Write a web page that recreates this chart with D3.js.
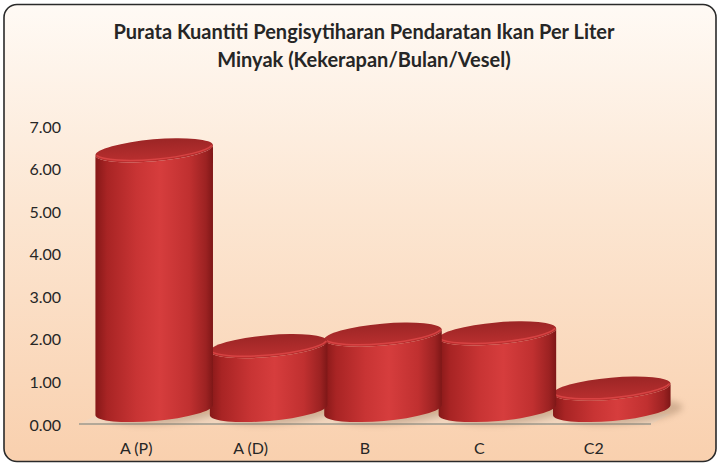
<!DOCTYPE html>
<html>
<head>
<meta charset="utf-8">
<script src="https://cdn.jsdelivr.net/npm/d3@7/dist/d3.min.js"></script>
<style>
  html, body { margin: 0; padding: 0; background: #ffffff; }
  svg { display: block; }
</style>
</head>
<body>
<script>
// ---- data ----
const categories = ["A (P)", "A (D)", "B", "C", "C2"];
const values = [6.1, 1.5, 1.77, 1.8, 0.5];
const yTicks = [0, 1, 2, 3, 4, 5, 6, 7];
const titleLines = ["Purata Kuantiti Pengisytiharan Pendaratan Ikan Per Liter", "Minyak (Kekerapan/Bulan/Vesel)"];

const W = 721, H = 468;
const svg = d3.select("body").append("svg").attr("width", W).attr("height", H);
const defs = svg.append("defs");

// background gradient
const bg = defs.append("linearGradient").attr("id", "bg").attr("x1", 0).attr("y1", 0).attr("x2", 0).attr("y2", 1);
bg.append("stop").attr("offset", "0%").attr("stop-color", "#fffaf5");
bg.append("stop").attr("offset", "45%").attr("stop-color", "#fce6d2");
bg.append("stop").attr("offset", "100%").attr("stop-color", "#f9d0ae");

// body gradient
const bodyG = defs.append("linearGradient").attr("id", "bodyG").attr("x1", 0).attr("y1", 0).attr("x2", 1).attr("y2", 0);
[["0%", "#861818"], ["10%", "#a82424"], ["35%", "#c83434"], ["55%", "#d63d3d"], ["80%", "#c03030"], ["94%", "#9c2222"], ["100%", "#7e1717"]]
  .forEach(([o, c]) => bodyG.append("stop").attr("offset", o).attr("stop-color", c));

// top gradient
const topG = defs.append("linearGradient").attr("id", "topG").attr("x1", 0).attr("y1", 1).attr("x2", 0.3).attr("y2", 0);
topG.append("stop").attr("offset", "0%").attr("stop-color", "#bf3131");
topG.append("stop").attr("offset", "100%").attr("stop-color", "#9e2626");

const blur = defs.append("filter").attr("id", "blur").attr("x", "-30%").attr("y", "-80%").attr("width", "160%").attr("height", "260%");
blur.append("feGaussianBlur").attr("stdDeviation", 3);

// frame
svg.append("rect").attr("x", 4).attr("y", 4.5).attr("width", 712).attr("height", 457)
  .attr("rx", 13).attr("ry", 13)
  .attr("fill", "url(#bg)").attr("stroke", "#2a2a2a").attr("stroke-width", 1.6);

// title
svg.append("g").selectAll("text").data(titleLines).join("text")
  .attr("x", 364).attr("y", (d, i) => 39 + i * 28)
  .attr("text-anchor", "middle")
  .attr("font-family", "Lato, 'Open Sans', sans-serif")
  .attr("font-weight", "bold").attr("font-size", 20)
  .attr("fill", "#262626")
  .text(d => d);

// scales
const y = d3.scaleLinear().domain([0, 7]).range([425, 127]);
const x = d3.scaleBand().domain(categories).range([79, 651]).paddingInner(0).paddingOuter(0);

// y axis labels
const yAxis = d3.axisLeft(y).tickValues(yTicks).tickFormat(d3.format(".2f")).tickSize(0).tickPadding(0);
const ya = svg.append("g").attr("transform", "translate(61,0)").call(yAxis);
ya.select(".domain").remove();
ya.selectAll("text").attr("font-family", "Lato, sans-serif").attr("font-size", 16).attr("fill", "#262626");

// x axis labels
const xAxis = d3.axisBottom(x).tickSize(0).tickPadding(0);
const xa = svg.append("g").attr("transform", "translate(0,443)").call(xAxis);
xa.select(".domain").remove();
xa.selectAll("text").attr("font-family", "Lato, sans-serif").attr("font-size", 16).attr("fill", "#262626");

// floor
const floorY = y(0) - 1;
svg.append("path")
  .attr("d", `M${x.range()[0]},${floorY} L${x.range()[1]},${floorY} L${x.range()[1] + 20},${floorY - 10} L${x.range()[0] + 20},${floorY - 10} Z`)
  .attr("fill", "#ecd8c4").attr("opacity", 0.6);
svg.append("line").attr("x1", x.range()[0]).attr("x2", x.range()[1])
  .attr("y1", floorY).attr("y2", floorY)
  .attr("stroke", "#b3a898").attr("stroke-width", 2);

// cylinders
const depthShift = 18;   // perspective shift
const rx = 59, ry = 11, rot = -5;
const lift = 15;          // bottom ellipse centre above floor
const th = rot * Math.PI / 180;
const c = Math.cos(th), s = Math.sin(th);

const data = categories.map((k, i) => ({ k, v: values[i] }));
const g = svg.append("g");

// shadows first
g.selectAll(".shadow").data(data).join("ellipse")
  .attr("class", "shadow")
  .attr("cx", d => x(d.k) + x.bandwidth() / 2 + depthShift + 12)
  .attr("cy", y(0) - lift + 2)
  .attr("rx", rx).attr("ry", ry + 1)
  .attr("transform", d => `rotate(${rot} ${x(d.k) + x.bandwidth() / 2 + depthShift + 12} ${y(0) - lift + 2})`)
  .attr("fill", "#8a6a50").attr("opacity", 0.35).attr("filter", "url(#blur)");

const cyl = g.selectAll(".cyl").data(data.slice().reverse()).join("g").attr("class", "cyl");

cyl.append("path")
  .attr("d", d => {
    const cx = x(d.k) + x.bandwidth() / 2 + depthShift;
    const ct = y(d.v) - lift, cb = y(0) - lift;
    const lx = cx - rx * c, rxp = cx + rx * c;
    const ly = -rx * s, ryy = rx * s;
    return `M${lx},${ct + ly} L${lx},${cb + ly} A${rx},${ry} ${rot} 0 0 ${rxp},${cb + ryy} L${rxp},${ct + ryy} A${rx},${ry} ${rot} 0 1 ${lx},${ct + ly} Z`;
  })
  .attr("fill", "url(#bodyG)");

cyl.append("ellipse")
  .attr("cx", d => x(d.k) + x.bandwidth() / 2 + depthShift)
  .attr("cy", d => y(d.v) - lift)
  .attr("rx", rx).attr("ry", ry)
  .attr("transform", d => `rotate(${rot} ${x(d.k) + x.bandwidth() / 2 + depthShift} ${y(d.v) - lift})`)
  .attr("fill", "url(#topG)");

// rim highlight on front edge of top
cyl.append("path")
  .attr("d", d => {
    const cx = x(d.k) + x.bandwidth() / 2 + depthShift;
    const ct = y(d.v) - lift;
    const lx = cx - rx * c + 1, rxp = cx + rx * c - 1;
    return `M${rxp},${ct + rx * s} A${rx},${ry} ${rot} 0 1 ${lx},${ct - rx * s}`;
  })
  .attr("fill", "none").attr("stroke", "#e04848").attr("stroke-width", 1.5).attr("opacity", 0.8);
</script>
</body>
</html>
